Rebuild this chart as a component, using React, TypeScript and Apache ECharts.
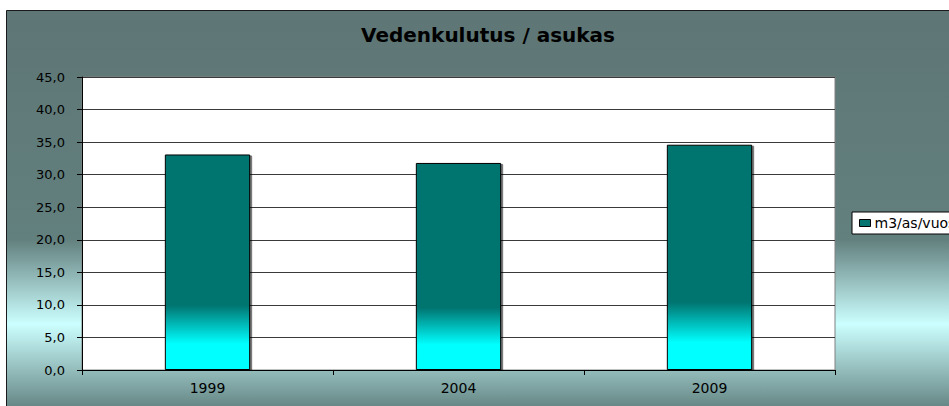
import React, { useEffect, useRef } from "react";
import * as echarts from "echarts";

const titleText = "Vedenkulutus / asukas";
const categories = ["1999", "2004", "2009"];
const seriesName = "m3/as/vuosi";
const values = [33.1, 31.8, 34.6];
const yMin = 0;
const yMax = 45;
const yInterval = 5;

export default function App() {
  const ref = useRef<HTMLDivElement>(null);
  useEffect(() => {
    if (!ref.current) return;
    const chart = echarts.init(ref.current, null, { renderer: "svg" });
    const barGradient = new echarts.graphic.LinearGradient(0, 0, 0, 1, [
      { offset: 0, color: "#047470" },
      { offset: 0.7, color: "#047470" },
      { offset: 0.88, color: "#00ffff" },
      { offset: 1, color: "#00ffff" },
    ]);
    const bgGradient = new echarts.graphic.LinearGradient(0, 0, 0, 1, [
      { offset: 0, color: "#5e7675" },
      { offset: 0.57, color: "#62807e" },
      { offset: 0.78, color: "#ccffff" },
      { offset: 1, color: "#5f7f7d" },
    ]);
    chart.setOption({
      animation: false,
      backgroundColor: "#ffffff",
      graphic: [
        {
          type: "rect",
          z: -100,
          silent: true,
          shape: { x: 6.5, y: 10.5, width: 1000, height: 402 },
          style: { fill: bgGradient, stroke: "#1a1a1a", lineWidth: 1 },
        },
      ],
      title: {
        text: titleText,
        left: 483,
        textAlign: "center",
        top: 20,
        textStyle: {
          fontFamily: "DejaVu Sans",
          fontWeight: "bold",
          fontSize: 20,
          color: "#000",
        },
      },
      legend: {
        left: 852,
        top: 212,
        orient: "vertical",
        backgroundColor: "#ffffff",
        borderColor: "#000",
        borderWidth: 1,
        borderRadius: 0,
        padding: [4, 8, 4, 7],
        itemWidth: 11,
        itemHeight: 7,
        itemGap: 4,
        icon: "rect",
        textStyle: { fontFamily: "DejaVu Sans", fontSize: 14, color: "#000", padding: [0, 0, 0, -1] },
        data: [{ name: seriesName, itemStyle: { color: "#047470", borderColor: "#000", borderWidth: 1 } }],
      },
      grid: {
        left: 82,
        right: 114,
        top: 77,
        bottom: 36,
        show: true,
        backgroundColor: "#ffffff",
        borderColor: "#808080",
        borderWidth: 1,
      },
      xAxis: {
        type: "category",
        data: categories,
        axisLine: { lineStyle: { color: "#000", width: 1 } },
        axisTick: { show: true, length: 5, lineStyle: { color: "#000" } },
        axisLabel: {
          fontFamily: "DejaVu Sans",
          fontSize: 14,
          color: "#000",
          margin: 11,
        },
      },
      yAxis: {
        type: "value",
        min: yMin,
        max: yMax,
        interval: yInterval,
        axisLine: { show: true, lineStyle: { color: "#000", width: 1 } },
        axisTick: { show: true, length: 5, lineStyle: { color: "#000" } },
        splitLine: { show: true, lineStyle: { color: "#3a3a3a", width: 1 } },
        axisLabel: {
          fontFamily: "DejaVu Sans",
          fontSize: 13,
          color: "#000",
          margin: 17,
          formatter: (v: number) => v.toFixed(1).replace(".", ","),
        },
      },
      series: [
        {
          name: seriesName,
          type: "bar",
          data: values,
          barWidth: "34%",
          itemStyle: {
            color: barGradient,
            borderColor: "#000",
            borderWidth: 1,
            shadowColor: "rgba(0,0,0,0.55)",
            shadowBlur: 1,
            shadowOffsetX: 2,
            shadowOffsetY: 1,
          },
        },
      ],
    });
    return () => chart.dispose();
  }, []);
  return (
    <div
      ref={ref}
      style={{ position: "fixed", left: 0, top: 0, width: 949, height: 406 }}
    />
  );
}
